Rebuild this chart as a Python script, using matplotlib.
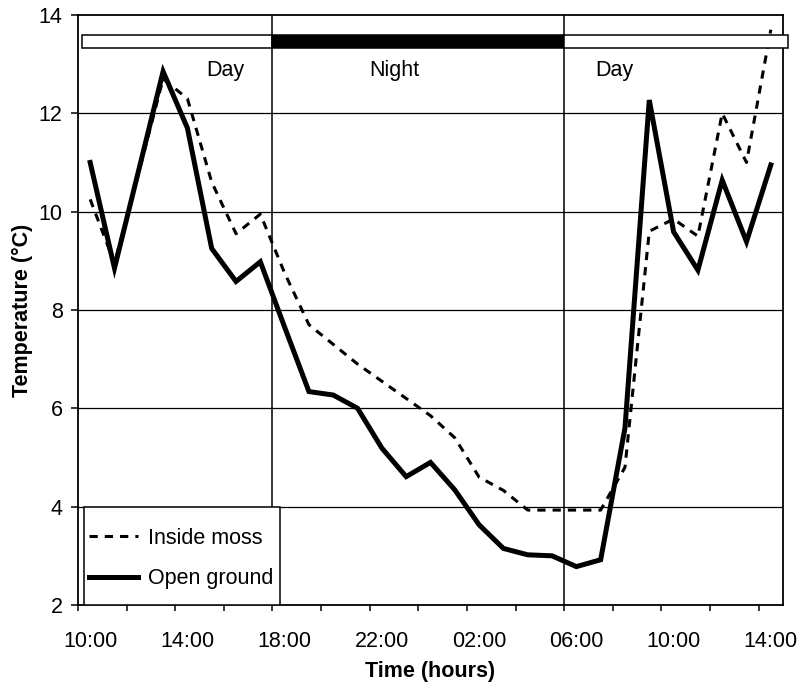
import matplotlib.pyplot as plt
from matplotlib.patches import Rectangle

plt.rcParams['font.family'] = ['Liberation Sans', 'DejaVu Sans']

# hourly readings, 10:00 to 14:00 next day
time_labels = ["10:00", "14:00", "18:00", "22:00", "02:00", "06:00", "10:00", "14:00"]
inside_moss = [10.25, 8.95, 10.8, 12.7, 12.3, 10.6, 9.55, 9.95, 8.75, 7.7,
               7.3, 6.9, 6.55, 6.2, 5.85, 5.4, 4.6, 4.33, 3.93, 3.93,
               3.93, 3.93, 4.8, 9.6, 9.85, 9.5, 12.0, 11.0, 13.7]
open_ground = [11.0, 8.85, 10.85, 12.85, 11.7, 9.25, 8.58, 8.98, 7.65, 6.34,
               6.27, 6.0, 5.19, 4.61, 4.9, 4.34, 3.63, 3.15, 3.02, 3.0,
               2.78, 2.92, 5.6, 12.27, 9.59, 8.81, 10.64, 9.39, 10.95]
# light periods: (label, start hour, end hour)
periods = [("Day", 0, 8), ("Night", 8, 20), ("Day", 20, 29)]

x = [i + 0.5 for i in range(len(open_ground))]

fig = plt.figure(figsize=(8.01, 6.87), dpi=100)
ax = fig.add_axes([0.0974, 0.1194, 0.8801, 0.8588])

# grid
for y in [4, 6, 8, 10, 12]:
    ax.axhline(y, color="black", lw=0.9, zorder=1)
for p in periods[1:]:
    ax.axvline(p[1], color="black", lw=1.1, zorder=1)

# lines
ax.plot(x, inside_moss, color="black", lw=2.2, dashes=(2.7, 2.3),
        label="Inside moss", zorder=3)
ax.plot(x, open_ground, color="black", lw=3.6, label="Open ground", zorder=4,
        solid_joinstyle="miter")

# day / night bar
label_x = {"Day": [6.06, 22.06], "Night": [13.0]}
used = {"Day": 0, "Night": 0}
for name, start, end in periods:
    s = start + 0.15 if start == 0 else start
    e = end + 0.2 if end == 29 else end
    fc = "black" if name == "Night" else "white"
    ax.add_patch(Rectangle((s, 13.33), e - s, 0.26, facecolor=fc,
                           edgecolor="black", lw=1.1, clip_on=False, zorder=5))
    ax.text(label_x[name][used[name]], 12.88, name, ha="center", va="center",
            fontsize=15.5)
    used[name] += 1

ax.set_xlim(0, 29)
ax.set_ylim(2, 14)
ax.set_yticks(range(2, 15, 2))
ax.set_xticks(range(0, 29, 2))
ax.set_xticklabels([])
ax.set_xticks([0.5 + 4 * k for k in range(len(time_labels))], minor=True)
ax.set_xticklabels(time_labels, minor=True)
ax.tick_params(axis="x", which="major", direction="out", length=4, width=1.1)
ax.tick_params(axis="x", which="minor", length=0, pad=19, labelsize=15.5)
ax.tick_params(axis="y", direction="out", length=5, width=1.1, pad=6,
               labelsize=15.5)

for sp in ax.spines.values():
    sp.set_linewidth(1.3)

ax.set_xlabel("Time (hours)", fontsize=15.5, fontweight="bold", labelpad=6)
ax.set_ylabel("Temperature (°C)", fontsize=15.5, fontweight="bold", labelpad=4)

# legend box
ax.add_patch(Rectangle((0.0085, 0), 0.278, 0.166, transform=ax.transAxes,
                       facecolor="white", edgecolor="black", lw=1.1, zorder=6))
leg = ax.legend(loc="lower left", bbox_to_anchor=(0.003, 0.012), frameon=False,
                fontsize=15.5, handlelength=2.3, handletextpad=0.45,
                labelspacing=0.9, borderaxespad=0)
leg.set_zorder(7)

fig.savefig("out.png", dpi=100)
